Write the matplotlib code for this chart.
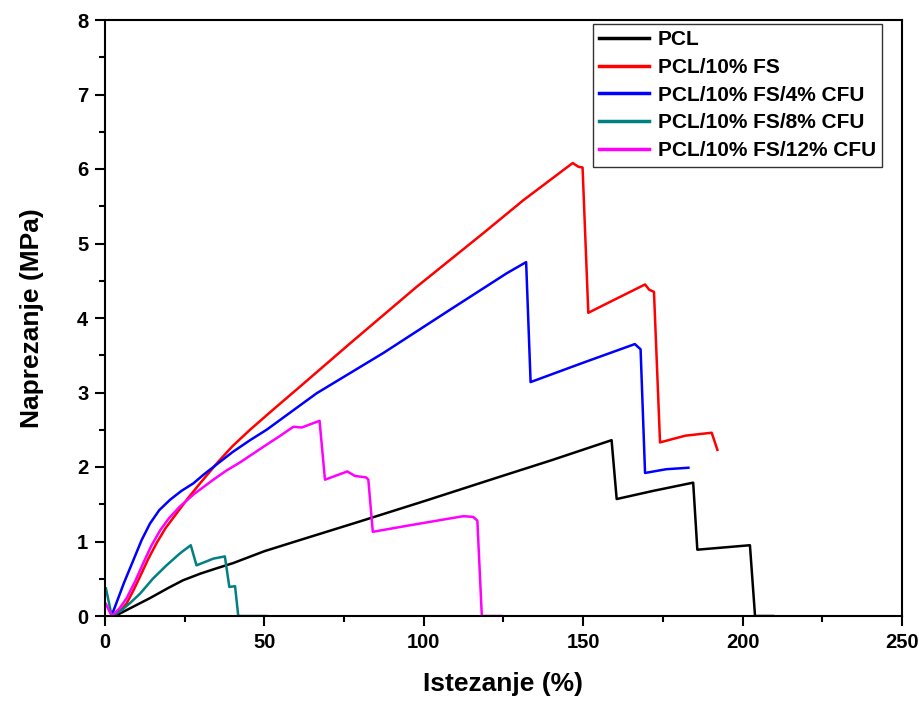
import matplotlib.pyplot as plt
from matplotlib.ticker import MultipleLocator

plt.rcParams['font.family'] = ['Liberation Sans', 'DejaVu Sans']
plt.rcParams['font.weight'] = 'bold'

# PCL
pcl_x = [2, 4.5, 6.8, 10, 14.1, 20, 24.5, 30, 35, 40.2, 50, 61.2, 80, 100,
         123.9, 140, 158.9, 160.5, 172, 184.5, 185.8, 202.3, 203.9, 209.6]
pcl_y = [0, 0.03, 0.08, 0.15, 0.24, 0.38, 0.48, 0.57, 0.64, 0.71, 0.87,
         1.02, 1.27, 1.54, 1.87, 2.09, 2.36, 1.57, 1.68, 1.79, 0.89, 0.95,
         0, 0]

# PCL/10% FS
fs_x = [2.6, 5, 6.8, 9, 11, 13.5, 16.2, 19, 22.5, 26, 29.8, 35.5, 40, 45.5,
        53, 61.2, 76.9, 97.8, 118.7, 131.2, 146.7, 148.5, 149.8, 151.6, 160,
        169.4, 170.7, 172.2, 174.1, 182, 190.3, 192.1]
fs_y = [0, 0.08, 0.17, 0.35, 0.53, 0.76, 0.98, 1.18, 1.38, 1.58, 1.78, 2.07,
        2.28, 2.5, 2.78, 3.08, 3.66, 4.42, 5.14, 5.58, 6.08, 6.03, 6.02, 4.07,
        4.25, 4.45, 4.38, 4.35, 2.33, 2.42, 2.46, 2.23]

# PCL/10% FS/4% CFU
c4_x = [2, 3.1, 6, 8.9, 11.5, 14.1, 17, 20.4, 24, 27.7, 31, 35.5, 40, 45.5,
        50.7, 66.4, 87.3, 108.2, 126, 132.1, 133.5, 150, 166.2, 168, 169.4,
        176, 183]
c4_y = [0, 0.12, 0.45, 0.75, 1.02, 1.24, 1.42, 1.56, 1.68, 1.78, 1.9, 2.05,
        2.2, 2.36, 2.5, 2.99, 3.53, 4.11, 4.6, 4.75, 3.14, 3.4, 3.65, 3.58,
        1.92, 1.97, 1.99]

# PCL/10% FS/8% CFU
c8_x = [0.3, 2.1, 5, 8, 11, 15, 19.3, 23.5, 26.9, 28.7, 34, 37.6, 39, 40.8,
        41.8, 50.7]
c8_y = [0.37, 0, 0.07, 0.18, 0.3, 0.5, 0.68, 0.84, 0.95, 0.68, 0.77, 0.8,
        0.39, 0.4, 0, 0]

# PCL/10% FS/12% CFU
c12_x = [0.3, 2.1, 4.5, 6.8, 9.5, 12, 14.5, 17.3, 20, 23.5, 28, 34, 38,
         42.3, 46.5, 50, 55, 59.1, 61.7, 67.3, 69, 76, 78.4, 81.9, 82.6, 84,
         94.6, 112.4, 115.5, 116.8, 118.2, 124.4]
c12_y = [0.16, 0, 0.1, 0.24, 0.47, 0.71, 0.94, 1.15, 1.31, 1.47, 1.64, 1.83,
         1.95, 2.06, 2.18, 2.28, 2.42, 2.54, 2.53, 2.62, 1.83, 1.94, 1.88,
         1.86, 1.83, 1.13, 1.21, 1.34, 1.33, 1.28, 0, 0]

series = [
    (pcl_x, pcl_y, 'PCL', 'black'),
    (fs_x, fs_y, 'PCL/10% FS', 'red'),
    (c4_x, c4_y, 'PCL/10% FS/4% CFU', 'blue'),
    (c8_x, c8_y, 'PCL/10% FS/8% CFU', '#008080'),
    (c12_x, c12_y, 'PCL/10% FS/12% CFU', 'magenta'),
]

fig = plt.figure(figsize=(9.2, 7.04), dpi=100)
ax = fig.add_axes([105 / 920, 1 - 616 / 704, 797 / 920, 596 / 704])

for x, y, name, col in series:
    ax.plot(x, y, color=col, lw=1.8, label=name, solid_joinstyle='round')

ax.set_xlim(0, 250)
ax.set_ylim(0, 8)
ax.xaxis.set_major_locator(MultipleLocator(50))
ax.xaxis.set_minor_locator(MultipleLocator(25))
ax.yaxis.set_major_locator(MultipleLocator(1))
ax.yaxis.set_minor_locator(MultipleLocator(0.5))
ax.tick_params(which='major', direction='out', length=7, width=1.5,
               labelsize=14.5, pad=5)
ax.tick_params(which='minor', direction='out', length=4, width=1.5)
for s in ax.spines.values():
    s.set_linewidth(1.5)

ax.set_xlabel('Istezanje (%)', fontsize=19, fontweight='bold', labelpad=15)
ax.set_ylabel('Naprezanje (MPa)', fontsize=19, fontweight='bold', labelpad=24)

leg = ax.legend(loc='upper right', fontsize=15, frameon=True, fancybox=False,
                borderaxespad=0, handlelength=2.4, labelspacing=0.42,
                borderpad=0.3, handletextpad=0.4)
leg.set_bbox_to_anchor((882 / 920, 1 - 24 / 704), transform=fig.transFigure)
leg.get_frame().set_edgecolor('black')
leg.get_frame().set_linewidth(1.0)
for h in leg.get_lines():
    h.set_linewidth(2.5)

fig.savefig('out.png', dpi=100)
